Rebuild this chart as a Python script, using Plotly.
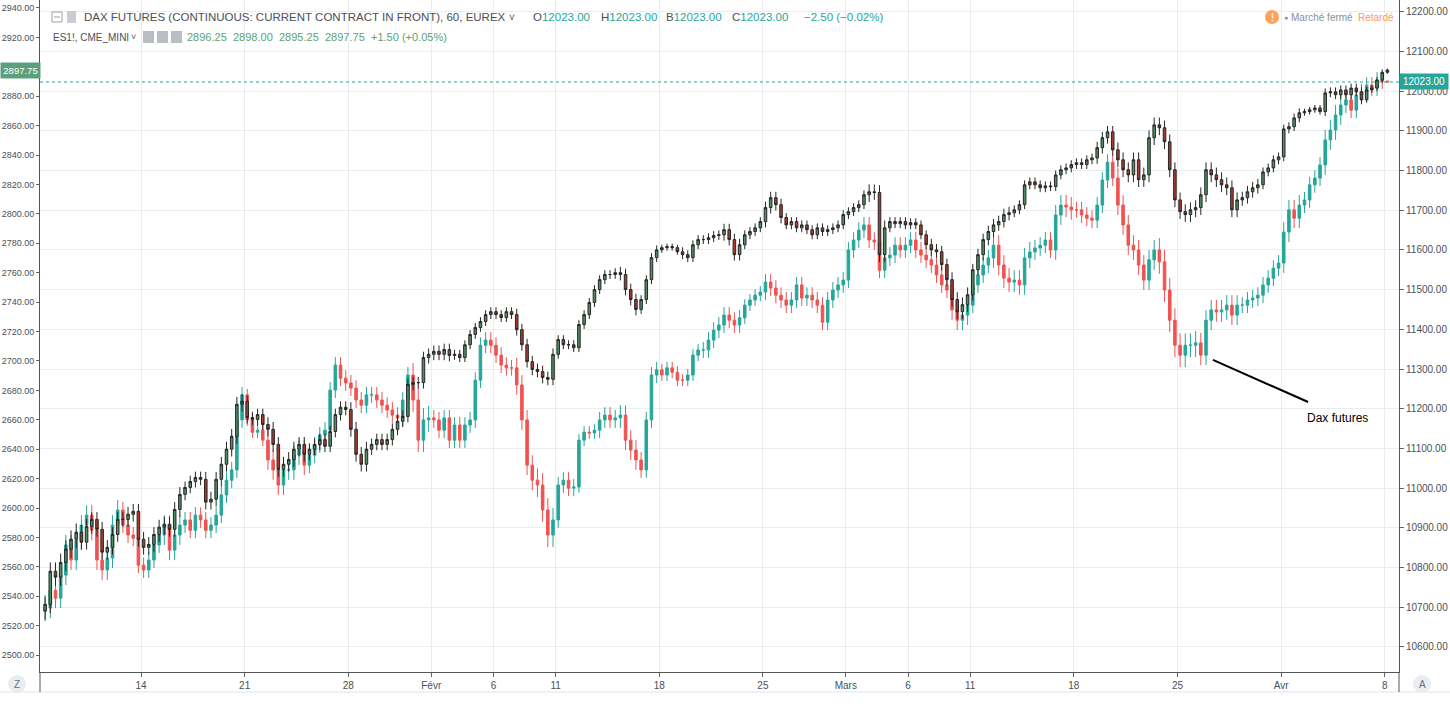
import pandas as pd
import plotly.graph_objects as go

# Séances (une barre = un quart de séance)
DAYS = pd.bdate_range("2019-01-07", "2019-04-08")
BARS_PER_DAY = 4
FIRST_BAR = 1  # le graphique commence au 2e quart du 7 janvier

TICK_DATES = ["2019-01-14", "2019-01-21", "2019-01-28", "2019-02-01", "2019-02-06",
              "2019-02-11", "2019-02-18", "2019-02-25", "2019-03-01", "2019-03-06",
              "2019-03-11", "2019-03-18", "2019-03-25", "2019-04-01", "2019-04-08"]
TICK_TEXT = ["14", "21", "28", "Févr", "6", "11", "18", "25", "Mars", "6",
             "11", "18", "25", "Avr", "8"]

# ES1! (axe gauche) - clôtures
es_first_open = 2530.0
es_close = [
    2534.5, 2557.0, 2553.0,
    2563.0, 2572.0, 2578.75, 2583.5,
    2576.75, 2587.5, 2592.25, 2585.5,
    2570.0, 2573.25, 2582.0, 2592.25,
    2592.25, 2595.75, 2597.75, 2578.75,
    2573.25, 2575.25, 2582.0, 2587.0,
    2589.0, 2585.5, 2599.0, 2609.25,
    2614.0, 2618.0, 2620.75, 2619.5,
    2604.0, 2606.0, 2619.5, 2629.75,
    2640.0, 2648.75, 2670.5, 2672.5,
    2661.5, 2660.25, 2663.5, 2656.75,
    2653.5, 2643.25, 2626.25, 2629.75,
    2633.0, 2640.0, 2643.25, 2636.5,
    2640.0, 2643.25, 2646.5, 2642.0,
    2652.0, 2663.5, 2668.5, 2667.0,
    2653.5, 2636.5, 2629.75, 2640.0,
    2643.25, 2646.5, 2643.25, 2646.5,
    2653.5, 2659.0, 2662.25, 2684.0,
    2685.25, 2685.25, 2702.25, 2704.5,
    2706.5, 2704.5, 2707.75, 2703.75,
    2704.5, 2702.25, 2711.0, 2718.0,
    2722.75, 2726.75, 2731.5, 2733.5,
    2731.5, 2729.5, 2733.5, 2731.5,
    2721.25, 2711.0, 2699.5, 2694.25,
    2692.75, 2688.75, 2687.5, 2704.5,
    2714.5, 2711.0, 2711.0, 2709.0,
    2724.75, 2731.5, 2739.75, 2748.5,
    2755.25, 2758.75, 2758.75, 2760.0,
    2758.75, 2748.5, 2741.75, 2735.0,
    2741.75, 2755.25, 2770.25, 2775.5,
    2777.0, 2777.75, 2777.0, 2774.25,
    2772.25, 2770.25, 2779.0, 2782.5,
    2782.5, 2783.75, 2785.25, 2785.75,
    2789.25, 2782.5, 2772.25, 2779.0,
    2785.75, 2788.0, 2790.5, 2794.75,
    2804.25, 2811.0, 2806.25, 2797.5,
    2792.5, 2794.75, 2790.5, 2792.5,
    2789.25, 2785.75, 2790.5, 2788.0,
    2789.25, 2790.5, 2792.5, 2799.5,
    2801.5, 2804.25, 2806.25, 2813.0,
    2815.0, 2814.5, 2772.25, 2790.5,
    2794.75, 2793.25, 2794.75, 2792.5,
    2794.0, 2792.5, 2785.75, 2779.0,
    2775.5, 2774.25, 2765.5, 2755.25,
    2741.75, 2733.5, 2738.25, 2745.0,
    2762.0, 2772.25, 2782.5, 2788.0,
    2792.5, 2794.75, 2799.5, 2800.75,
    2802.75, 2806.25, 2819.75, 2821.75,
    2819.75, 2817.75, 2819.0, 2818.5,
    2826.5, 2830.0, 2831.25, 2833.5,
    2834.75, 2833.5, 2836.75, 2838.0,
    2845.0, 2851.75, 2855.75, 2843.5,
    2836.75, 2830.0, 2826.5, 2836.75,
    2823.25, 2826.5, 2851.75, 2860.5,
    2858.5, 2849.0, 2830.0, 2809.5,
    2801.5, 2799.5, 2802.75, 2804.25,
    2813.0, 2830.0, 2826.5, 2823.25,
    2819.75, 2817.75, 2802.75, 2809.5,
    2811.0, 2815.0, 2817.75, 2819.75,
    2828.5, 2831.25, 2836.75, 2838.75,
    2857.75, 2859.25, 2865.25, 2868.75,
    2869.5, 2870.75, 2872.0, 2869.5,
    2882.25, 2883.0, 2881.0, 2884.25,
    2881.0, 2885.5, 2883.0, 2877.5,
    2884.25, 2885.5, 2891.0, 2896.25,
    2897.75,
]
# amplitude typique des mèches par séance (points)
es_wick = [6, 6, 5, 5, 5, 5, 5, 4, 5, 5,
           4, 5, 5, 4, 4, 5, 4, 4, 4, 4,
           3, 3, 3, 4, 4, 3, 3, 3, 4, 3,
           2, 3, 3, 4, 3, 4, 3, 3, 3, 3,
           5, 3, 3, 4, 5, 4, 4, 3, 3, 3,
           3, 4, 5, 5, 5, 5, 5, 5, 4, 3,
           3, 2, 3, 3, 2, 1]

# DAX futures (axe droit)
dax_first_open = 10690.0
dax_close = [
    10698, 10743, 10723,
    10781, 10857, 10819, 10869,
    10907, 10932, 10894, 10819,
    10794, 10824, 10907, 10945,
    10907, 10882, 10874, 10806,
    10794, 10819, 10857, 10882,
    10907, 10844, 10882, 10907,
    10920, 10894, 10932, 10920,
    10894, 10907, 10932, 10983,
    11020, 11046, 11172, 11235,
    11172, 11141, 11146, 11121,
    11071, 11046, 11008, 11046,
    11046, 11083, 11096, 11058,
    11083, 11109, 11134, 11146,
    11247, 11310, 11277, 11265,
    11252, 11222, 11209, 11235,
    11235, 11222, 11209, 11197,
    11184, 11177, 11222, 11285,
    11222, 11121, 11172, 11177,
    11172, 11146, 11177, 11121,
    11159, 11121, 11159, 11172,
    11272, 11360, 11373, 11360,
    11335, 11310, 11303, 11303,
    11260, 11172, 11058, 11020,
    11008, 10945, 10882, 10920,
    11008, 11020, 11000, 11003,
    11121, 11141, 11139, 11146,
    11172, 11184, 11172, 11177,
    11184, 11121, 11096, 11071,
    11046, 11172, 11285, 11298,
    11285, 11303, 11292, 11272,
    11272, 11285, 11335, 11348,
    11348, 11373, 11398, 11411,
    11436, 11423, 11411, 11429,
    11461, 11474, 11486, 11494,
    11519, 11504, 11486, 11474,
    11461, 11474, 11512, 11479,
    11486, 11474, 11461, 11418,
    11474, 11499, 11512, 11524,
    11600, 11625, 11650, 11663,
    11625, 11620, 11549, 11580,
    11587, 11612, 11600, 11612,
    11625, 11600, 11587, 11575,
    11562, 11537, 11512, 11499,
    11449, 11423, 11436, 11461,
    11512, 11537, 11562, 11580,
    11612, 11562, 11529, 11519,
    11524, 11512, 11580, 11595,
    11605, 11612, 11625, 11600,
    11688, 11713, 11708, 11701,
    11701, 11688, 11680, 11675,
    11713, 11776, 11821, 11781,
    11713, 11663, 11612, 11600,
    11562, 11524, 11575, 11600,
    11570, 11499, 11423, 11360,
    11335, 11360, 11360, 11366,
    11335, 11423, 11449, 11444,
    11449, 11461, 11436, 11461,
    11461, 11474, 11479, 11486,
    11512, 11529, 11554, 11567,
    11645, 11701, 11680, 11713,
    11726, 11764, 11781, 11814,
    11877, 11902, 11940, 11965,
    11978, 11952, 11990, 11998,
    12015, 12008, 12028, 12025.5,
    12023,
]
dax_wick = [25, 25, 25, 25, 20, 20, 25, 20, 20, 20,
            15, 25, 25, 20, 20, 20, 20, 20, 30, 20,
            20, 20, 20, 25, 30, 20, 15, 20, 25, 20,
            15, 15, 20, 20, 15, 20, 20, 20, 20, 20,
            20, 20, 20, 20, 25, 20, 25, 25, 20, 25,
            20, 20, 25, 25, 30, 30, 25, 25, 20, 20,
            25, 20, 25, 20, 20, 0]

ES_LAST = 2897.75
DAX_LAST = 12023.00
ES_TICKS = [2500 + 20 * k for k in range(23) if 2500 + 20 * k != 2900]

GREEN_TV = "#26a69a"
RED_TV = "#ef5350"
TEXT = "#4a4f59"


def bar_days(n):
    return [(FIRST_BAR + i) // BARS_PER_DAY for i in range(n)]


def bar_x(n):
    # centre de chaque barre, en unités de séance
    return [(FIRST_BAR + i + 0.5) / BARS_PER_DAY for i in range(n)]


def ohlc(first_open, closes, wick):
    opens = [first_open] + closes[:-1]
    days = bar_days(len(closes))
    highs = [max(o, c) + wick[d] for o, c, d in zip(opens, closes, days)]
    lows = [min(o, c) - wick[d] for o, c, d in zip(opens, closes, days)]
    return opens, highs, lows


day_pos = {d.strftime("%Y-%m-%d"): i for i, d in enumerate(DAYS)}
tickvals = [day_pos[d] for d in TICK_DATES]

dax_o, dax_h, dax_l = ohlc(dax_first_open, dax_close, dax_wick)
es_o, es_h, es_l = ohlc(es_first_open, es_close, es_wick)

fig = go.Figure()
fig.add_trace(go.Candlestick(
    x=bar_x(len(dax_close)), open=dax_o, high=dax_h, low=dax_l, close=dax_close,
    increasing=dict(line=dict(color=GREEN_TV, width=1), fillcolor=GREEN_TV),
    decreasing=dict(line=dict(color=RED_TV, width=1), fillcolor=RED_TV),
    hoverinfo="skip", yaxis="y", name="DAX"))
fig.add_trace(go.Candlestick(
    x=bar_x(len(es_close)), open=es_o, high=es_h, low=es_l, close=es_close,
    increasing=dict(line=dict(color="#262626", width=1), fillcolor="#4f8f63"),
    decreasing=dict(line=dict(color="#262626", width=1), fillcolor="#a83b2c"),
    hoverinfo="skip", yaxis="y2", name="ES1!"))


# conversion pixels -> papier pour les éléments d'habillage
def px(x):
    return (x - 40) / 1359


def py(y):
    return (672 - y) / 672


axis_font = dict(family="Liberation Sans, Arial, sans-serif", size=10, color=TEXT)
left_font = dict(family="Liberation Sans, Arial, sans-serif", size=9, color=TEXT)
grid = "#e8edf2"

fig.update_layout(
    width=1450, height=706, autosize=False,
    margin=dict(l=40, r=51, t=0, b=34),
    paper_bgcolor="white", plot_bgcolor="white",
    showlegend=False, hovermode=False,
    font=dict(family="Liberation Sans, Arial, sans-serif", color=TEXT),
    xaxis=dict(range=[0.128, 65.685], tickvals=tickvals, ticktext=TICK_TEXT,
               showgrid=True, gridcolor=grid, zeroline=False, automargin=False,
               ticks="outside", ticklen=4, tickcolor="#666",
               showline=True, linecolor="#555", linewidth=1,
               tickfont=axis_font, rangeslider=dict(visible=False),
               fixedrange=True),
    yaxis=dict(side="right", range=[10537, 12229.5], tick0=10600, dtick=100,
               tickformat=".2f", showgrid=True, gridcolor=grid, zeroline=False,
               automargin=False, ticks="outside", ticklen=4, tickcolor="#666",
               showline=True, linecolor="#555", linewidth=1,
               tickfont=axis_font, fixedrange=True),
    yaxis2=dict(side="left", overlaying="y", range=[2488.5, 2945.4],
                tickvals=ES_TICKS, tickformat=".2f", showgrid=False, zeroline=False,
                automargin=False, ticks="outside", ticklen=3, tickcolor="#666",
                showline=True, linecolor="#555", linewidth=1,
                tickfont=left_font, fixedrange=True),
)

shapes = [
    # ligne de prix du DAX
    dict(type="line", xref="paper", yref="y", x0=0, x1=1, y0=DAX_LAST, y1=DAX_LAST,
         line=dict(color=GREEN_TV, width=1, dash="dot")),
    # trait "Dax futures"
    dict(type="line", xref="x", yref="y", x0=56.71, y0=11323, x1=61.3, y1=11217,
         line=dict(color="black", width=2)),
    # bas de la zone / barre inférieure
    dict(type="line", xref="paper", yref="paper", x0=px(0), x1=px(1450),
         y0=py(692), y1=py(692), line=dict(color="#e0e3eb", width=1)),
    dict(type="line", xref="paper", yref="paper", x0=0, x1=0,
         y0=0, y1=py(692), line=dict(color="#555", width=1)),
    dict(type="line", xref="paper", yref="paper", x0=1, x1=1,
         y0=0, y1=py(692), line=dict(color="#555", width=1)),
    # icônes de l'en-tête
    dict(type="rect", xref="paper", yref="paper", x0=px(52), x1=px(62),
         y0=py(22), y1=py(12), line=dict(color="#9aa0a8", width=1)),
    dict(type="line", xref="paper", yref="paper", x0=px(54), x1=px(60),
         y0=py(17), y1=py(17), line=dict(color="#9aa0a8", width=1)),
    dict(type="rect", xref="paper", yref="paper", x0=px(67), x1=px(76),
         y0=py(23), y1=py(11), fillcolor="#c9cdd3", line=dict(width=0)),
    dict(type="circle", xref="paper", yref="paper", x0=px(1265), x1=px(1279),
         y0=py(24), y1=py(10), fillcolor="#ffa35c", line=dict(width=0)),
    dict(type="circle", xref="paper", yref="paper", x0=px(8), x1=px(26),
         y0=py(693), y1=py(675), fillcolor="#e9edf1", line=dict(width=0)),
    dict(type="circle", xref="paper", yref="paper", x0=px(1413), x1=px(1431),
         y0=py(693), y1=py(675), fillcolor="#e9edf1", line=dict(width=0)),
]
for x0 in (143, 157, 171):
    shapes.append(dict(type="rect", xref="paper", yref="paper", x0=px(x0), x1=px(x0 + 11),
                       y0=py(43), y1=py(31), fillcolor="#b9bec5", line=dict(width=0)))
fig.update_layout(shapes=shapes)

hdr = "Liberation Sans, Arial, sans-serif"


def label(x, y, text, color=TEXT, size=11.5, anchor="left", family=hdr):
    fig.add_annotation(xref="paper", yref="paper", x=px(x), y=py(y), text=text,
                       showarrow=False, xanchor=anchor, yanchor="middle",
                       font=dict(family=family, size=size, color=color), borderpad=0)


label(83, 17, "DAX FUTURES (CONTINUOUS: CURRENT CONTRACT IN FRONT), 60, EUREX", size=11.5)
label(508, 17, "˅", size=10)
for x0, lab in ((532, "O"), (600, "H"), (665, "B"), (731, "C")):
    label(x0, 17, f"{lab}<span style='color:{GREEN_TV}'>{DAX_LAST:.2f}</span>")
label(803, 17, "−2.50 (−0.02%)", color=GREEN_TV)

label(52, 37, "ES1!, CME_MINI", size=10)
label(130, 37, "˅", size=9)
es_green = "#5aa276"
for x0, txt in ((186, "2896.25"), (232, "2898.00"), (278, "2895.25"),
                (324, f"{ES_LAST:.2f}"), (370, "+1.50 (+0.05%)")):
    label(x0, 37, txt, color=es_green, size=11)

label(1272, 17, "!", color="white", size=11, anchor="center")
label(1283, 17, "●", color="#8b9099", size=7)
label(1290, 17, "Marché fermé", color="#8b9099", size=10)
label(1357, 17, "Retardé", color="#ff9a4d", size=10)

label(17, 684, "Z", color="#6b7079", size=10, anchor="center")
label(1422, 684, "A", color="#6b7079", size=10, anchor="center")

# étiquettes de dernier prix
fig.add_annotation(xref="paper", yref="y2", x=px(0), y=ES_LAST, text=f"{ES_LAST:.2f}",
                   showarrow=False, xanchor="left", yanchor="middle", width=35,
                   font=dict(family=hdr, size=9.5, color="white"),
                   bgcolor="#5c9f7c", borderpad=2)
fig.add_annotation(xref="paper", yref="y", x=1.0, y=DAX_LAST, text=f"{DAX_LAST:.2f}",
                   showarrow=False, xanchor="left", yanchor="middle", width=44,
                   font=dict(family=hdr, size=10, color="white"),
                   bgcolor=GREEN_TV, borderpad=2)

# légende manuscrite
fig.add_annotation(xref="x", yref="y", x=62.74, y=11176, text="Dax futures",
                   showarrow=False, xanchor="center", yanchor="middle",
                   font=dict(family=hdr, size=12, color="black"))

# la page par défaut a une marge de 8 px autour du graphique
fig.write_html("out.html", config={"displayModeBar": False},
               post_script="document.body.style.margin='0';")
